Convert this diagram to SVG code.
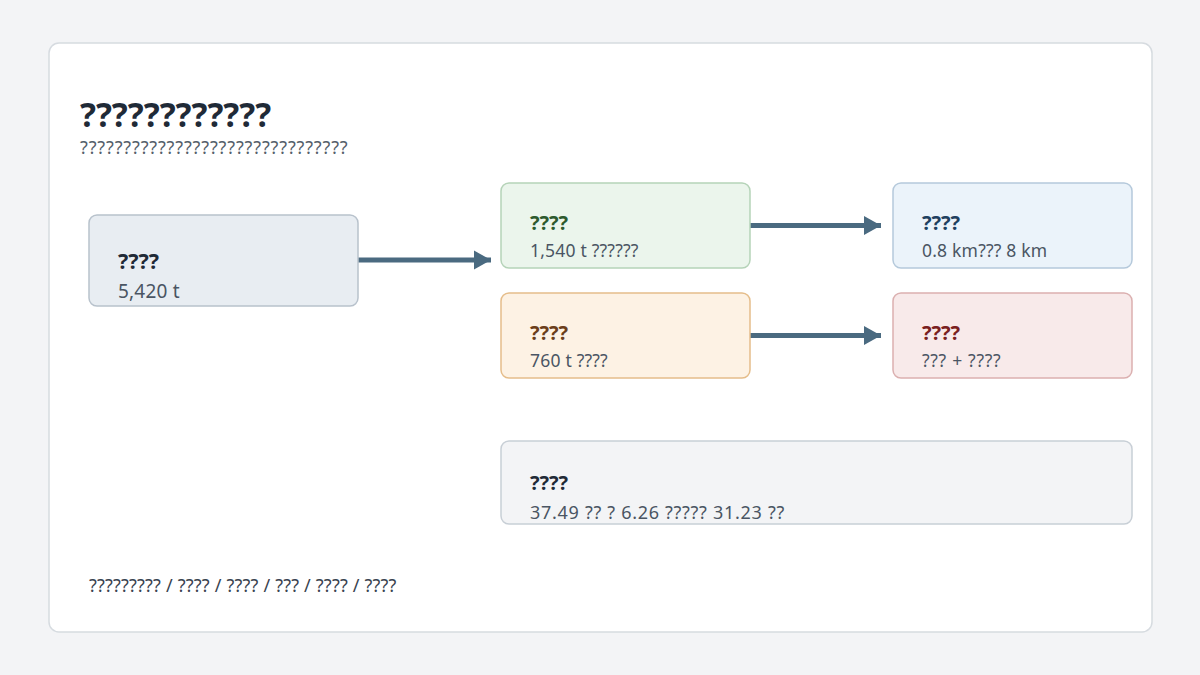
<svg xmlns="http://www.w3.org/2000/svg" width="1200" height="675" viewBox="0 0 1200 675">
<defs>
<style>
text{font-family:"Noto Sans","Open Sans","DejaVu Sans",sans-serif}
.t{font-weight:700;font-size:20px}
.s{font-size:17.5px;fill:#4a5563;letter-spacing:0.2px}
.box{stroke-width:1.5}
.conn{stroke:#4a6a80;stroke-width:5;fill:none}
</style>
<marker id="ah" markerUnits="userSpaceOnUse" markerWidth="18" markerHeight="20" refX="17" refY="10" orient="auto">
<path d="M0,0.5 L17,10 L0,19.5 Z" fill="#4a6a80"/>
</marker>
</defs>
<rect x="0" y="0" width="1200" height="675" fill="#f3f4f6"/>
<rect x="49" y="43" width="1103" height="589" rx="10" fill="#ffffff" stroke="#d6dbe0" stroke-width="1.5"/>
<g id="header">
<text x="80" y="127" font-size="33.4" font-weight="700" fill="#1f2a37">????????????</text>
<text x="80" y="154" font-size="18" letter-spacing="0.85" fill="#555f6b">???????????????????????????????</text>
</g>
<g id="connectors">
<line class="conn" x1="358" y1="260" x2="491" y2="260" marker-end="url(#ah)"/>
<line class="conn" x1="750" y1="225.5" x2="881" y2="225.5" marker-end="url(#ah)"/>
<line class="conn" x1="750" y1="335.5" x2="881" y2="335.5" marker-end="url(#ah)"/>
</g>
<g id="node-source">
<rect class="box" x="89" y="215" width="269" height="91" rx="8" fill="#e8edf2" stroke="#b8c2cc"/>
<text class="t" x="118" y="269" style="font-size:21.5px" fill="#1f2a37">????</text>
<text class="s" x="118" y="298" style="font-size:19px">5,420 t</text>
</g>
<g id="node-green">
<rect class="box" x="501" y="183" width="249" height="85" rx="8" fill="#ebf5ec" stroke="#b5d3b8"/>
<text class="t" x="530" y="230" fill="#2d5a2e">????</text>
<text class="s" x="530" y="257">1,540 t ??????</text>
</g>
<g id="node-orange">
<rect class="box" x="501" y="293" width="249" height="85" rx="8" fill="#fdf2e4" stroke="#e5bd8a"/>
<text class="t" x="530" y="340" fill="#6b3e1a">????</text>
<text class="s" x="530" y="367">760 t ????</text>
</g>
<g id="node-blue">
<rect class="box" x="893" y="183" width="239" height="85" rx="8" fill="#ebf3fa" stroke="#b5c9db"/>
<text class="t" x="922" y="230" fill="#1f4060">????</text>
<text class="s" x="922" y="257">0.8 km??? 8 km</text>
</g>
<g id="node-red">
<rect class="box" x="893" y="293" width="239" height="85" rx="8" fill="#f8eaea" stroke="#dbb0b0"/>
<text class="t" x="922" y="340" fill="#7a2020">????</text>
<text class="s" x="922" y="367" style="letter-spacing:0.7px">??? + ????</text>
</g>
<g id="node-summary">
<rect class="box" x="501" y="441" width="631" height="83" rx="8" fill="#f3f4f6" stroke="#c8cfd6"/>
<text class="t" x="530" y="490" fill="#1f2a37">????</text>
<text class="s" x="530" y="519" style="font-size:18px;letter-spacing:0.7px">37.49 ?? ? 6.26 ????? 31.23 ??</text>
</g>
<g id="footer">
<text x="89" y="592" font-size="18" letter-spacing="0.2" fill="#3a4350">????????? / ???? / ???? / ??? / ???? / ????</text>
</g>
</svg>
